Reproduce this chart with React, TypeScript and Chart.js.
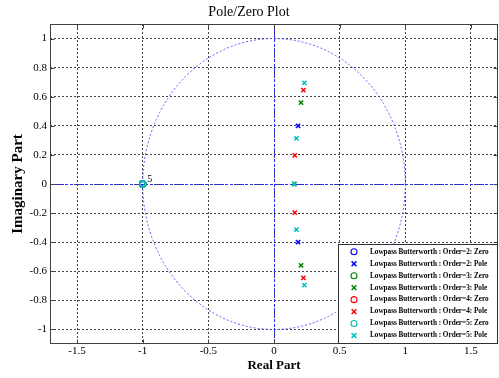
import React, { useEffect, useRef } from "react";
import { Chart, registerables } from "chart.js";

Chart.register(...registerables);

const chartTitle = "Pole/Zero Plot";
const xAxisLabel = "Real Part";
const yAxisLabel = "Imaginary Part";
const xTicks = [-1.5, -1, -0.5, 0, 0.5, 1, 1.5];
const yTicks = [-1, -0.8, -0.6, -0.4, -0.2, 0, 0.2, 0.4, 0.6, 0.8, 1];
const xRange = [-1.706, 1.706];
const yRange = [-1.1, 1.1];
const unitRadius = 1;

const seriesLabels = [
  "Lowpass Butterworth : Order=2: Zero",
  "Lowpass Butterworth : Order=2: Pole",
  "Lowpass Butterworth : Order=3: Zero",
  "Lowpass Butterworth : Order=3: Pole",
  "Lowpass Butterworth : Order=4: Zero",
  "Lowpass Butterworth : Order=4: Pole",
  "Lowpass Butterworth : Order=5: Zero",
  "Lowpass Butterworth : Order=5: Pole",
];

const order2ZerosRe = [-1, -1];
const order2ZerosIm = [0, 0];
const order2PolesRe = [0.183, 0.183];
const order2PolesIm = [0.4, -0.4];

const order3ZerosRe = [-1, -1, -1];
const order3ZerosIm = [0, 0, 0];
const order3PolesRe = [0.206, 0.155, 0.206];
const order3PolesIm = [0.56, 0, -0.56];

const order4ZerosRe = [-1, -1, -1, -1];
const order4ZerosIm = [0, 0, 0, 0];
const order4PolesRe = [0.158, 0.224, 0.158, 0.224];
const order4PolesIm = [0.197, 0.645, -0.197, -0.645];

const order5ZerosRe = [-1, -1, -1, -1, -1];
const order5ZerosIm = [0, 0, 0, 0, 0];
const order5PolesRe = [0.171, 0.232, 0.155, 0.171, 0.232];
const order5PolesIm = [0.313, 0.695, 0, -0.313, -0.695];

const seriesRe = [order2ZerosRe, order2PolesRe, order3ZerosRe, order3PolesRe, order4ZerosRe, order4PolesRe, order5ZerosRe, order5PolesRe];
const seriesIm = [order2ZerosIm, order2PolesIm, order3ZerosIm, order3PolesIm, order4ZerosIm, order4PolesIm, order5ZerosIm, order5PolesIm];
const seriesColors = ["#0000ff", "#0000ff", "#008000", "#008000", "#ff0000", "#ff0000", "#00bfbf", "#00bfbf"];
const seriesStyles = ["circle", "crossRot", "circle", "crossRot", "circle", "crossRot", "circle", "crossRot"];

const SERIF = "'Liberation Serif', 'Times New Roman', serif";

function drawMarker(ctx: CanvasRenderingContext2D, style: string, x: number, y: number, color: string) {
  ctx.save();
  ctx.strokeStyle = color;
  ctx.setLineDash([]);
  ctx.beginPath();
  if (style === "circle") {
    ctx.lineWidth = 1.1;
    ctx.arc(x, y, 3, 0, Math.PI * 2);
  } else {
    const r = 2.4;
    ctx.lineWidth = 1.5;
    ctx.moveTo(x - r, y - r);
    ctx.lineTo(x + r, y + r);
    ctx.moveTo(x - r, y + r);
    ctx.lineTo(x + r, y - r);
  }
  ctx.stroke();
  ctx.restore();
}

const decorPlugin = {
  id: "decor",
  beforeDatasetsDraw(chart: any) {
    const { ctx, chartArea: a, scales } = chart;
    const x = scales.x;
    const y = scales.y;
    ctx.save();
    ctx.beginPath();
    ctx.rect(a.left, a.top, a.right - a.left, a.bottom - a.top);
    ctx.clip();
    const x0 = x.getPixelForValue(0);
    const y0 = y.getPixelForValue(0);
    // unit circle
    const rx = x.getPixelForValue(unitRadius) - x0;
    const ry = y0 - y.getPixelForValue(unitRadius);
    ctx.strokeStyle = "#5a5aff";
    ctx.lineWidth = 1;
    ctx.setLineDash([2, 2]);
    ctx.beginPath();
    ctx.ellipse(x0, y0, rx, ry, 0, 0, Math.PI * 2);
    ctx.stroke();
    // axis lines
    const ax = Math.round(x0) + 0.5;
    const ay = Math.round(y0) + 0.5;
    ctx.strokeStyle = "#2a2aff";
    ctx.setLineDash([3, 2]);
    ctx.beginPath();
    ctx.moveTo(ax, a.top);
    ctx.lineTo(ax, a.bottom);
    ctx.moveTo(a.left, ay);
    ctx.lineTo(a.right, ay);
    ctx.stroke();
    ctx.restore();
  },
  afterDatasetsDraw(chart: any) {
    const { ctx, chartArea: a, scales } = chart;
    const x = scales.x;
    const y = scales.y;
    ctx.save();
    // multiplicity label of the repeated zero
    ctx.fillStyle = "#000";
    ctx.font = `10px ${SERIF}`;
    ctx.textAlign = "center";
    ctx.textBaseline = "middle";
    ctx.fillText(String(order5ZerosRe.length), x.getPixelForValue(order5ZerosRe[0]) + 7, y.getPixelForValue(order5ZerosIm[0]) - 5);

    // box and inward ticks
    const L = Math.round(a.left) + 0.5;
    const R = Math.round(a.right) - 0.5;
    const T = Math.round(a.top) + 0.5;
    const B = Math.round(a.bottom) - 0.5;
    ctx.strokeStyle = "#404040";
    ctx.lineWidth = 1;
    ctx.setLineDash([]);
    ctx.strokeRect(L, T, R - L, B - T);
    ctx.beginPath();
    x.ticks.forEach((t: any) => {
      const px = Math.round(x.getPixelForValue(t.value)) + 0.5;
      ctx.moveTo(px, T);
      ctx.lineTo(px, T + 4);
      ctx.moveTo(px, B);
      ctx.lineTo(px, B - 4);
    });
    y.ticks.forEach((t: any) => {
      const py = Math.round(y.getPixelForValue(t.value)) + 0.5;
      ctx.moveTo(L, py);
      ctx.lineTo(L + 4, py);
      ctx.moveTo(R, py);
      ctx.lineTo(R - 4, py);
    });
    ctx.stroke();

    // legend
    ctx.font = `bold 7.2px ${SERIF}`;
    const labels = chart.data.datasets.map((d: any) => d.label);
    const maxW = Math.max(...labels.map((s: string) => ctx.measureText(s).width));
    const markerOff = 15.5;
    const textOff = 31.5;
    const boxW = Math.round(textOff + maxW + 9);
    const rowH = 11.96;
    const boxH = Math.round(7.3 + rowH * (labels.length - 1) + 7.5);
    const bx = R - boxW;
    const by = B - boxH;
    ctx.fillStyle = "#fff";
    ctx.fillRect(bx, by, boxW, boxH);
    ctx.strokeStyle = "#303030";
    ctx.strokeRect(bx, by, boxW, boxH);
    chart.data.datasets.forEach((d: any, i: number) => {
      const cy = by + 7.3 + i * rowH;
      drawMarker(ctx, d.pointStyle, bx + markerOff, cy, d.borderColor);
      ctx.fillStyle = "#000";
      ctx.textAlign = "left";
      ctx.textBaseline = "middle";
      ctx.fillText(d.label, bx + textOff, cy);
    });
    ctx.restore();
  },
};

export default function App() {
  const ref = useRef<HTMLCanvasElement>(null);
  useEffect(() => {
    if (!ref.current) return;
    const datasets = seriesLabels.map((label, i) => ({
      label,
      data: seriesRe[i].map((re, k) => ({ x: re, y: seriesIm[i][k] })),
      showLine: false,
      pointStyle: seriesStyles[i],
      pointRadius: 3,
      pointHoverRadius: 3,
      pointBorderWidth: 1.5,
      borderColor: seriesColors[i],
      backgroundColor: "rgba(0,0,0,0)",
      order: seriesLabels.length - i,
    }));
    const chart = new Chart(ref.current, {
      type: "scatter",
      data: { datasets },
      options: {
        animation: false,
        responsive: false,
        devicePixelRatio: 1,
        layout: { autoPadding: false, padding: { left: 0, right: 1, top: 0, bottom: 0 } },
        plugins: {
          legend: { display: false },
          tooltip: { enabled: false },
          title: {
            display: true,
            text: chartTitle,
            color: "#000",
            font: { family: SERIF, size: 14, weight: "normal" },
            padding: { top: 4, bottom: 3.2 },
          },
        },
        scales: {
          x: {
            type: "linear",
            min: xRange[0],
            max: xRange[1],
            afterBuildTicks: (s: any) => {
              s.ticks = xTicks.map((v) => ({ value: v }));
            },
            afterFit: (s: any) => {
              s.height = 34;
            },
            ticks: {
              color: "#000",
              font: { family: SERIF, size: 11 },
              padding: 1,
              maxRotation: 0,
              autoSkip: false,
              callback: (v: any) => String(v),
            },
            grid: { color: "rgba(0,0,0,0.75)", lineWidth: 1, drawTicks: false },
            border: { display: false, dash: [2, 2] },
            title: {
              display: true,
              text: xAxisLabel,
              color: "#000",
              font: { family: SERIF, size: 13, weight: "bold" },
              padding: { top: 0, bottom: 4.6 },
            },
          },
          y: {
            type: "linear",
            min: yRange[0],
            max: yRange[1],
            afterBuildTicks: (s: any) => {
              s.ticks = yTicks.map((v) => ({ value: v }));
            },
            afterFit: (s: any) => {
              s.width = 50;
            },
            ticks: {
              color: "#000",
              font: { family: SERIF, size: 11 },
              padding: 3,
              autoSkip: false,
              callback: (v: any) => String(v),
            },
            grid: { color: "rgba(0,0,0,0.75)", lineWidth: 1, drawTicks: false },
            border: { display: false, dash: [2, 2] },
            title: {
              display: true,
              text: yAxisLabel,
              color: "#000",
              font: { family: SERIF, size: 15, weight: "bold" },
              padding: { top: 9.2, bottom: 0 },
            },
          },
        },
      },
      plugins: [decorPlugin],
    } as any);
    return () => chart.destroy();
  }, []);
  return (
    <div style={{ position: "fixed", left: 0, top: 0, width: 499, height: 378, background: "#fff" }}>
      <canvas ref={ref} width={499} height={378} style={{ display: "block" }} />
    </div>
  );
}
